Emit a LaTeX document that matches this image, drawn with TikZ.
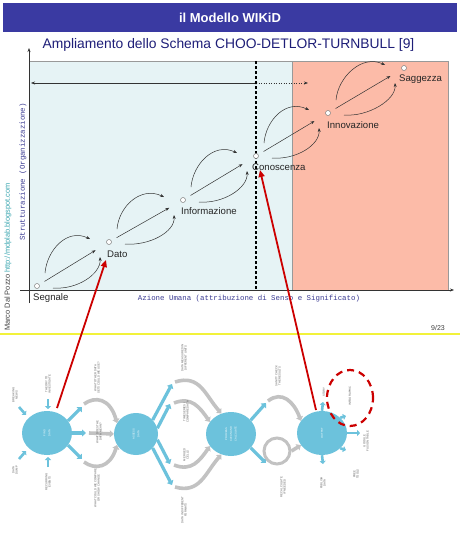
\documentclass[tikz,border=0pt]{standalone}
\usepackage{fontspec}
\setmainfont{Liberation Sans}
\newfontfamily\monof{Liberation Mono}
\usetikzlibrary{arrows.meta,calc,shapes.geometric}
\definecolor{barblue}{HTML}{3A3AA2}
\definecolor{subblue}{HTML}{1E1E78}
\definecolor{cyanbg}{HTML}{E6F3F5}
\definecolor{salmon}{HTML}{FCBBA8}
\definecolor{monoblue}{HTML}{3A3A92}
\definecolor{urlc}{HTML}{3AA6B0}
\definecolor{ylw}{HTML}{F2F23A}
\definecolor{bblue}{HTML}{6CC2DC}
\definecolor{bgray}{HTML}{C2C2C2}
\definecolor{redc}{HTML}{CC0000}
\tikzset{
  pt/.style={circle,draw=gray,fill=white,inner sep=0pt,minimum size=5pt,line width=0.5pt},
  lbl/.style={font=\fontsize{9.6}{11}\selectfont,text=black!85,inner sep=0pt,anchor=west},
  arr/.style={draw=black!80,line width=0.5pt,-{Stealth[length=4pt,width=3pt]}},
  mono/.style={font=\monof\fontsize{7.4}{8}\selectfont,text=monoblue,inner sep=0pt},
  bcirc/.style={ellipse,fill=bblue,inner sep=0pt,text=white,align=center,font=\fontsize{2.6}{3}\selectfont},
  barr/.style={draw=bblue,line width=3.2pt,-{Triangle[length=4pt,width=7pt]}},
  garr/.style={draw=bgray,line width=3.6pt,-{Triangle[length=4pt,width=7pt]}},
  spike/.style={draw=bblue,line width=2.6pt,-{Triangle[length=3pt,width=6pt]}},
  tinyl/.style={font=\fontsize{2.8}{3.2}\selectfont,rotate=90,align=center,text=black!65,inner sep=0pt},
  redarr/.style={draw=redc,line width=1.8pt,-{Triangle[length=7pt,width=6pt]}}
}
\newcommand\stepconn[2]{%
  \draw[arr,shorten <=6pt,shorten >=13pt] (#1) -- (#2);
  \draw[arr] ($(#1)+(8,-13)$) .. controls ($(#1)+(10,-36)$) and ($(#2)+(-42,-14)$) .. ($(#2)+(-19,-3)$);
  \draw[arr] ($(#1)+(16,2)$) .. controls ($(#1)+(40,4)$) and ($(#2)+(-8,32)$) .. ($(#2)+(-9,15)$);
}
\begin{document}
\begin{tikzpicture}[x=1pt,y=-1pt]
\useasboundingbox (0,0) rectangle (460,538);
\fill[white] (0,0) rectangle (460,538);
% header
\fill[barblue] (3,3) rectangle (457,32);
\node[font=\bfseries\fontsize{13}{15}\selectfont,text=white] (title) at (230,18) {il Modello WIKiD};
\node[font=\fontsize{13.85}{15}\selectfont,text=subblue] (subtitle) at (228.5,45) {Ampliamento dello Schema CHOO-DETLOR-TURNBULL [9]};
% regions
\fill[cyanbg] (30,61) rectangle (292,290);
\draw[gray!80,line width=0.6pt] (30,61) -- (292,61);
\fill[salmon] (292,61) rectangle (448,290);
\draw[gray!80,line width=0.6pt] (292,290) -- (292,61) -- (448,61) -- (448,290);
% axes
\coordinate (xa0) at (20,290);
\coordinate (xa1) at (454,290);
\coordinate (ya0) at (29,303);
\coordinate (ya1) at (29,48);
\draw[black!80,line width=0.6pt,-{Stealth[length=4pt,width=3pt]}] (xa0) -- (xa1);
\draw[black!80,line width=0.6pt,-{Stealth[length=4pt,width=3pt]}] (ya0) -- (ya1);
% top horizontal arrow and vertical dashed line
\coordinate (hm) at (256,83);
\coordinate (hl) at (31,83);
\coordinate (hr) at (308,83);
\draw[arr] (hm) -- (hl);
\draw[arr,dotted,line width=0.7pt] (hm) -- (hr);
\coordinate (vt) at (256,61);
\coordinate (vb) at (256,290);
\draw[black,line width=1.1pt,dash pattern=on 3pt off 2pt] (vt) -- (vb);
\fill[black] (hm) circle (1.3pt);
% nodes
\node[pt] (seg) at (37,286) {};
\node[pt] (dat) at (109,242) {};
\node[pt] (inf) at (183,200) {};
\node[pt] (con) at (256,156) {};
\node[pt] (inn) at (328,113) {};
\node[pt] (sag) at (404,68) {};
\node[lbl] (segL) at (33,298) {Segnale};
\node[lbl] (datL) at (107,254) {Dato};
\node[lbl] (infL) at (181,211) {Informazione};
\node[lbl] (conL) at (252,167) {Conoscenza};
\node[lbl] (innL) at (327,125) {Innovazione};
\node[lbl] (sagL) at (399,79) {Saggezza};
\stepconn{seg}{dat}
\stepconn{dat}{inf}
\stepconn{inf}{con}
\stepconn{con}{inn}
\stepconn{inn}{sag}
% axis labels
\node[mono,rotate=90] (ylab) at (23,172) {Strutturazione (Organizzazione)};
\node[mono] (xlab) at (249,299) {Azione Umana (attribuzione di Senso e Significato)};
\node[rotate=90,anchor=west,inner sep=0pt,font=\fontsize{7.4}{8}\selectfont,text=black!75] (author) at (8,331) {Marco Dal Pozzo \textcolor{urlc}{http://mdplab.blogspot.com}};
\node[font=\fontsize{7}{8}\selectfont,text=black!75] (page) at (438,328) {9/23};
\coordinate (yl0) at (0,334);
\coordinate (yl1) at (460,334);
\draw[ylw,line width=2.6pt] (yl0) -- (yl1);
% ---------- bottom diagram ----------
\node[bcirc,minimum width=50pt,minimum height=44pt] (c1) at (47,433) {\rotatebox{90}{\shortstack{FIND\\DATA}}};
\node[bcirc,minimum width=44pt,minimum height=42pt] (c2) at (136,434) {\rotatebox{90}{\shortstack{ASSESS\\DATA}}};
\node[bcirc,minimum width=50pt,minimum height=44pt] (c3) at (231,434) {\rotatebox{90}{\shortstack{PROCESS\\CLEAN AND\\CALCULATE}}};
\node[bcirc,minimum width=50pt,minimum height=44pt] (c4) at (322,433) {\rotatebox{90}{OUTPUT}};
% spikes into c1
\coordinate (s1a) at (48,399); \coordinate (s1b) at (48,409);
\coordinate (s2a) at (19,407); \coordinate (s2b) at (26,415);
\coordinate (s3a) at (19,459); \coordinate (s3b) at (26,451);
\coordinate (s4a) at (48,467); \coordinate (s4b) at (48,457);
\draw[spike] (s1a) -- (s1b);
\draw[spike] (s2a) -- (s2b);
\draw[spike] (s3a) -- (s3b);
\draw[spike] (s4a) -- (s4b);
\node[tinyl] (t1) at (48,384) {THEORY TO\\INVESTIGATE};
\node[tinyl] (t2) at (15,395) {BREAKING\\NEWS};
\node[tinyl] (t3) at (15,470) {DATA\\DUMP};
\node[tinyl] (t4) at (48,482) {RECURRING\\EVENTS};
% c1 -> c2
\coordinate (a1) at (82,407); \coordinate (a2) at (86,433); \coordinate (a3) at (82,459);
\draw[barr] (c1.30) -- (a1);
\draw[barr] (c1.east) -- (a2);
\draw[barr] (c1.-30) -- (a3);
\draw[garr] (84,404) .. controls (95,396) and (110,398) .. (c2.150);
\draw[garr] (89,433) -- (c2.west);
\draw[garr] (84,462) .. controls (95,470) and (110,468) .. (c2.-150);
\node[tinyl] (t5) at (97,378) {WHAT OTHER DATA\\SETS COULD WE USE?};
\node[tinyl] (t6) at (99,432) {WHAT DOES THE\\DATA MEAN?};
\node[tinyl] (t7) at (97,488) {WHAT COULD WE COMPARE\\OR SHOW CHANGE};
% c2 -> c3
\coordinate (b1) at (172,384); \coordinate (b2) at (170,404);
\coordinate (b3) at (170,464); \coordinate (b4) at (172,485);
\draw[barr] (c2.40) -- (b1);
\draw[barr] (c2.15) -- (b2);
\draw[barr] (c2.-15) -- (b3);
\draw[barr] (c2.-40) -- (b4);
\draw[garr] (175,382) .. controls (200,374) and (205,395) .. (c3.115);
\draw[garr] (174,403) .. controls (192,396) and (200,408) .. (c3.150);
\draw[garr] (174,465) .. controls (192,472) and (200,460) .. (c3.-150);
\draw[garr] (175,487) .. controls (200,494) and (205,473) .. (c3.-115);
\node[tinyl] (t8) at (184,358) {DATA MEASURED IN\\DIFFERENT UNITS};
\node[tinyl] (t9) at (186,412) {TIMESERIES /\\COMPARE DATA};
\node[tinyl] (t10) at (186,455) {MERGED\\CELLS};
\node[tinyl] (t11) at (184,510) {DATA IN DIFFERENT\\FORMATS};
% c3 -> c4
\coordinate (d1) at (266,403); \coordinate (d2) at (266,463);
\draw[barr] (c3.35) -- (d1);
\draw[barr] (c3.-35) -- (d2);
\draw[garr] (268,401) .. controls (282,390) and (294,402) .. (c4.150);
\node[draw=bgray,line width=3pt,circle,minimum size=26pt,inner sep=0pt] (loop) at (277,451) {};
\draw[garr] (loop.east) -- (c4.-150);
\node[tinyl] (t12) at (278,376) {SANITY CHECK\\THE RESULTS};
\node[tinyl] (t13) at (283,487) {RECALCULATE\\IF NEEDED};
% c4 spikes
\coordinate (e1) at (323,402); \coordinate (e2) at (346,416); \coordinate (e3) at (360,433);
\coordinate (e4) at (346,450); \coordinate (e5) at (323,464);
\draw[spike] (c4.90) -- (e1);
\draw[spike] (c4.40) -- (e2);
\draw[spike] (c4.0) -- (e3);
\draw[spike] (c4.-40) -- (e4);
\draw[spike] (c4.-90) -- (e5);
\node[tinyl] (t14) at (324,392) {STORY};
\node[tinyl] (t15) at (350,396) {INFOGRAPHIC};
\node[tinyl] (t16) at (366,441) {GOOGLE\\FUSION TABLE};
\node[tinyl] (t17) at (356,474) {FREE\\TOOLS};
\node[tinyl] (t18) at (323,483) {PUBLISH\\DATA};
\node[ellipse,draw=redc,line width=2.2pt,dash pattern=on 7pt off 5pt,minimum width=46pt,minimum height=56pt] (dashc) at (350,398) {};
% red arrows
\coordinate (r1s) at (57,408);
\coordinate (r1e) at (106,260);
\coordinate (r2s) at (316,410);
\coordinate (r2e) at (260,170);
\draw[redarr] (r1s) -- (r1e);
\draw[redarr] (r2s) -- (r2e);
\end{tikzpicture}
\end{document}
